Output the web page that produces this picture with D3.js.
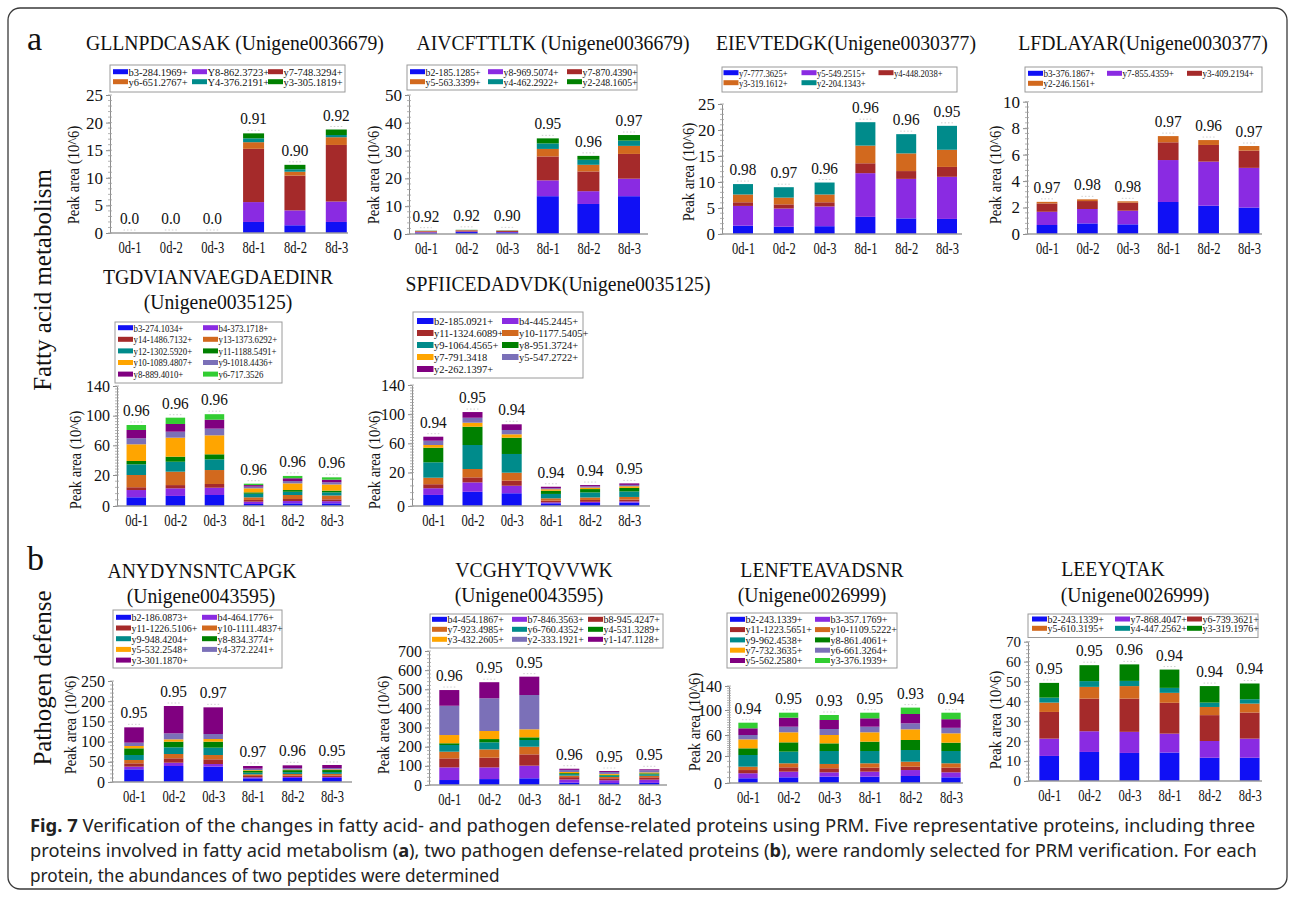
<!DOCTYPE html>
<html>
<head>
<meta charset="utf-8">
<script src="https://cdn.jsdelivr.net/npm/d3@7"></script>
<style>
  html, body { margin: 0; padding: 0; background: #fff; }
  svg { display: block; }
</style>
</head>
<body>
<svg id="fig" width="1295" height="900"></svg>
<script>
// ---- shared categories and fragment-ion colours ----
const samples = ["0d-1", "0d-2", "0d-3", "8d-1", "8d-2", "8d-3"];
const ionColors = ["#1010f5", "#8a2be2", "#a52a2a", "#d2691e", "#008b8b",
                   "#008000", "#ffa500", "#7b70b8", "#800080", "#32cd32"];

// ---- GLLNPDCASAK (Unigene0036679) ----
const gllnIons = ["b3-284.1969+", "Y8-862.3723+", "y7-748.3294+", "y6-651.2767+", "Y4-376.2191+", "y3-305.1819+"];
const gllnValues = [
  [0, 0, 0, 2.0, 1.4, 2.0],
  [0, 0, 0, 3.6, 2.7, 3.7],
  [0, 0, 0, 9.65, 6.3, 10.25],
  [0, 0, 0, 1.2, 0.7, 1.4],
  [0, 0, 0, 0.7, 0.45, 0.4],
  [0, 0, 0, 0.9, 0.8, 1.0]
];
const gllnCorr = ["0.0", "0.0", "0.0", "0.91", "0.90", "0.92"];

// ---- AIVCFTTLTK (Unigene0036679) ----
const aivcIons = ["b2-185.1285+", "y8-969.5074+", "y7-870.4390+", "y5-563.3399+", "y4-462.2922+", "y2-248.1605+"];
const aivcValues = [
  [0.5, 0.7, 0.6, 13.6, 10.8, 13.6],
  [0.15, 0.2, 0.15, 5.7, 4.6, 6.3],
  [0.3, 0.35, 0.35, 8.6, 7.1, 8.9],
  [0.15, 0.15, 0.1, 2.7, 2.4, 2.9],
  [0.05, 0.05, 0.05, 2.0, 1.8, 1.9],
  [0.05, 0.05, 0.05, 1.8, 1.4, 2.0]
];
const aivcCorr = ["0.92", "0.92", "0.90", "0.95", "0.96", "0.97"];

// ---- EIEVTEDGK (Unigene0030377) ----
const eievIons = ["y7-777.3625+", "y5-549.2515+", "y4-448.2038+", "y3-319.1612+", "y2-204.1343+"];
const eievValues = [
  [1.6, 1.4, 1.5, 3.3, 3.0, 2.9],
  [3.8, 3.5, 3.8, 8.4, 7.6, 8.1],
  [0.7, 0.8, 0.8, 1.9, 1.5, 1.9],
  [1.5, 1.3, 1.5, 3.4, 3.4, 3.3],
  [2.0, 2.0, 2.3, 4.5, 3.7, 4.6]
];
const eievCorr = ["0.98", "0.97", "0.96", "0.96", "0.96", "0.95"];

// ---- LFDLAYAR (Unigene0030377) ----
const lfdlIons = ["b3-376.1867+", "y7-855.4359+", "y3-409.2194+", "y2-246.1561+"];
const lfdlValues = [
  [0.68, 0.8, 0.73, 2.42, 2.14, 2.0],
  [1.0, 1.09, 1.03, 3.17, 3.33, 3.0],
  [0.63, 0.6, 0.61, 1.34, 1.26, 1.3],
  [0.12, 0.13, 0.1, 0.47, 0.37, 0.35]
];
const lfdlCorr = ["0.97", "0.98", "0.98", "0.97", "0.96", "0.97"];

// ---- TGDVIANVAEGDAEDINR (Unigene0035125) ----
const tgdvIons = ["b3-274.1034+", "b4-373.1718+", "y14-1486.7132+", "y13-1373.6292+", "y12-1302.5920+",
                  "y11-1188.5491+", "y10-1089.4807+", "y9-1018.4436+", "y8-889.4010+", "y6-717.3526"];
const tgdvValues = [
  [5.6, 6.5, 7.1, 1.3, 1.7, 1.7],
  [4.7, 4.9, 4.7, 1.5, 1.5, 1.4],
  [1.8, 2.1, 2.4, 1.1, 1.3, 1.2],
  [7.9, 11.0, 12.5, 1.7, 2.6, 2.5],
  [14.4, 13.4, 14.4, 2.3, 2.1, 2.0],
  [4.5, 6.8, 6.8, 0.9, 1.1, 1.1],
  [22.5, 25.6, 25.6, 2.6, 4.3, 4.0],
  [8.1, 8.1, 9.0, 1.1, 1.5, 1.4],
  [11.2, 10.4, 12.1, 1.0, 1.8, 1.7],
  [6.7, 8.5, 7.4, 0.9, 1.5, 1.5]
];
const tgdvCorr = ["0.96", "0.96", "0.96", "0.96", "0.96", "0.96"];

// ---- SPFIICEDADVDK (Unigene0035125) ----
const spfiIons = ["b2-185.0921+", "b4-445.2445+", "y11-1324.6089+", "y10-1177.5405+", "y9-1064.4565+",
                  "y8-951.3724+", "y7-791.3418", "y5-547.2722+", "y2-262.1397+"];
const spfiValues = [
  [6.6, 8.5, 7.6, 1.6, 1.8, 2.0],
  [4.0, 5.6, 4.5, 0.6, 0.7, 0.7],
  [2.4, 3.0, 3.0, 1.0, 1.1, 1.1],
  [3.9, 7.7, 4.8, 1.4, 1.5, 1.6],
  [17.1, 32.9, 25.5, 2.6, 3.0, 3.3],
  [20.0, 25.1, 22.3, 1.9, 2.0, 2.1],
  [3.7, 5.5, 4.7, 0.9, 0.9, 1.0],
  [5.9, 6.8, 5.9, 0.6, 0.7, 0.8],
  [5.5, 7.8, 7.8, 0.9, 0.8, 0.9]
];
const spfiCorr = ["0.94", "0.95", "0.94", "0.94", "0.94", "0.95"];

// ---- ANYDYNSNTCAPGK (Unigene0043595) ----
const anydIons = ["b2-186.0873+", "b4-464.1776+", "y11-1226.5106+", "y10-1111.4837+", "y9-948.4204+",
                  "y8-834.3774+", "y5-532.2548+", "y4-372.2241+", "y3-301.1870+"];
const anydValues = [
  [31.4, 39.6, 38.0, 9.1, 10.0, 10.0],
  [6.6, 8.2, 6.5, 2.5, 2.5, 2.5],
  [8.2, 10.8, 11.6, 3.3, 3.3, 3.5],
  [8.3, 10.7, 10.7, 4.1, 4.1, 4.1],
  [12.3, 16.5, 18.2, 4.1, 4.5, 4.5],
  [16.5, 14.0, 14.8, 5.0, 5.0, 5.0],
  [5.8, 5.8, 6.6, 1.6, 1.6, 1.6],
  [8.3, 14.8, 12.4, 3.3, 3.3, 3.3],
  [37.9, 67.7, 66.0, 6.6, 7.0, 7.6]
];
const anydCorr = ["0.95", "0.95", "0.97", "0.97", "0.96", "0.95"];

// ---- VCGHYTQVVWK (Unigene0043595) ----
const vcghIons = ["b4-454.1867+", "b7-846.3563+", "b8-945.4247+", "y7-923.4985+", "y6-760.4352+",
                  "y4-531.3289+", "y3-432.2605+", "y2-333.1921+", "y1-147.1128+"];
const vcghValues = [
  [26, 31, 35, 12, 10, 11],
  [66, 61, 66, 17, 15, 17],
  [47, 51, 59, 12, 10, 12],
  [35, 43, 40, 8, 7, 8],
  [35, 37, 35, 8, 7, 8],
  [9, 17, 14, 5, 4, 5],
  [43, 42, 42, 6, 5, 5],
  [153, 171, 179, 11, 10, 11],
  [82, 84, 96, 6, 5, 5]
];
const vcghCorr = ["0.96", "0.95", "0.95", "0.96", "0.95", "0.95"];

// ---- LENFTEAVADSNR (Unigene0026999) ----
const lenfIons = ["b2-243.1339+", "b3-357.1769+", "y11-1223.5651+", "y10-1109.5222+", "y9-962.4538+",
                  "y8-861.4061+", "y7-732.3635+", "y6-661.3264+", "y5-562.2580+", "y3-376.1939+"];
const lenfValues = [
  [3.5, 4.2, 4.7, 4.7, 5.2, 4.2],
  [3.7, 4.2, 3.2, 3.7, 4.4, 3.7],
  [2.4, 3.2, 3.0, 3.0, 2.5, 3.5],
  [2.5, 3.0, 3.2, 3.2, 3.7, 3.2],
  [9.8, 13.7, 15.4, 14.9, 15.6, 14.9],
  [12.7, 17.7, 14.6, 17.8, 19.1, 15.9],
  [17.1, 18.3, 15.9, 17.0, 18.6, 17.3],
  [8.3, 9.0, 9.6, 9.0, 9.6, 8.8],
  [10.7, 14.4, 14.4, 13.4, 14.9, 13.8],
  [9.0, 8.0, 8.0, 9.0, 10.4, 10.4]
];
const lenfCorr = ["0.94", "0.95", "0.93", "0.95", "0.93", "0.94"];

// ---- LEEYQTAK (Unigene0026999) ----
const leeyIons = ["b2-243.1339+", "y7-868.4047+", "y6-739.3621+", "y5-610.3195+", "y4-447.2562+", "y3-319.1976+"];
const leeyValues = [
  [12.6, 14.6, 14.1, 14.3, 11.7, 11.7],
  [8.7, 10.4, 10.6, 9.5, 8.4, 9.6],
  [13.4, 16.4, 16.7, 15.5, 13.0, 13.1],
  [4.7, 5.9, 6.3, 5.0, 4.1, 4.5],
  [2.5, 2.9, 2.6, 2.5, 2.2, 2.2],
  [7.4, 8.0, 8.3, 9.2, 8.3, 7.9]
];
const leeyCorr = ["0.95", "0.95", "0.96", "0.94", "0.94", "0.94"];

// ---- panel layout ----
const panels = [
  { ions: gllnIons, values: gllnValues, corr: gllnCorr,
    title: [["GLLNPDCASAK (Unigene0036679)", 235, 50]],
    legend: { x: 110, y: 65, w: 235, h: 27, cols: [113, 192, 268], rows: [71.7, 81.7], fsx: 1.0 },
    yDomain: [0, 25], yRange: [233, 95], ticks: [0, 5, 10, 15, 20, 25], minor: 1, tickFont: 17,
    axisX: 110, axisEnd: 348, c0: 129.5, c5: 336.3, barW: 21, yLab: [73, 175] },
  { ions: aivcIons, values: aivcValues, corr: aivcCorr,
    title: [["AIVCFTTLTK (Unigene0036679)", 553, 50]],
    legend: { x: 407, y: 65, w: 230, h: 25, cols: [410, 488, 567], rows: [71.7, 81.7], fsx: 0.93 },
    yDomain: [0, 50], yRange: [234, 95], ticks: [0, 10, 20, 30, 40, 50], minor: 2, tickFont: 17,
    axisX: 409, axisEnd: 648, c0: 426, c5: 629, barW: 22, yLab: [373, 175] },
  { ions: eievIons, values: eievValues, corr: eievCorr,
    title: [["EIEVTEDGK(Unigene0030377)", 846, 50]],
    legend: { x: 722, y: 67, w: 235, h: 25, cols: [723.5, 801.5, 878.5], rows: [72.7, 82.7], fsx: 0.82 },
    yDomain: [0, 25], yRange: [234, 104], ticks: [0, 5, 10, 15, 20, 25], minor: 1, tickFont: 17,
    axisX: 722, axisEnd: 962, c0: 743, c5: 947, barW: 20, yLab: [688, 172] },
  { ions: lfdlIons, values: lfdlValues, corr: lfdlCorr,
    title: [["LFDLAYAR(Unigene0030377)", 1143, 50]],
    legend: { x: 1025, y: 67, w: 237, h: 25, cols: [1028, 1107, 1187], rows: [73.3, 83.3], fsx: 0.87 },
    yDomain: [0, 10], yRange: [234, 101.7], ticks: [0, 2, 4, 6, 8, 10], minor: 0.4, tickFont: 17,
    axisX: 1027, axisEnd: 1262, c0: 1047, c5: 1249, barW: 20.7, yLab: [995, 175] },
  { ions: tgdvIons, values: tgdvValues, corr: tgdvCorr,
    title: [["TGDVIANVAEGDAEDINR", 218, 284], ["(Unigene0035125)", 218, 309]],
    legend: { x: 115, y: 322, w: 167, h: 61, cols: [118, 203], rows: [327.7, 339.3, 350.9, 362.5, 374.1], fsx: 0.84 },
    yDomain: [0, 20, 140], yRange: [506, 475, 386], ticks: [0, 20, 60, 100, 140], minor: 4, tickFont: 16,
    axisX: 117, axisEnd: 350, c0: 136.3, c5: 331.7, barW: 19.5, yLab: [75, 460] },
  { ions: spfiIons, values: spfiValues, corr: spfiCorr,
    title: [["SPFIICEDADVDK(Unigene0035125)", 558, 291]],
    legend: { x: 413, y: 312, w: 170, h: 66, cols: [417, 502], rows: [321, 333, 345, 357, 369], fsx: 1.0, sw: 16.5, sh: 6 },
    yDomain: [0, 20, 140], yRange: [506, 472.5, 385], ticks: [0, 20, 60, 100, 140], minor: 4, tickFont: 16,
    axisX: 412, axisEnd: 650, c0: 433.3, c5: 629.3, barW: 20, yLab: [374, 460] },
  { ions: anydIons, values: anydValues, corr: anydCorr,
    title: [["ANYDYNSNTCAPGK", 202, 578], ["(Unigene0043595)", 201, 603]],
    legend: { x: 113, y: 610, w: 169, h: 58, cols: [116, 202], rows: [617.3, 628, 638.7, 649.4, 660.1], fsx: 0.95 },
    yDomain: [0, 250], yRange: [782, 681], ticks: [0, 50, 100, 150, 200, 250], minor: 10, tickFont: 16,
    axisX: 112, axisEnd: 352, c0: 134, c5: 332, barW: 19.5, yLab: [70, 725] },
  { ions: vcghIons, values: vcghValues, corr: vcghCorr,
    title: [["VCGHYTQVVWK", 534, 577], ["(Unigene0043595)", 529, 602]],
    legend: { x: 430, y: 614, w: 233, h: 34, cols: [432, 512, 588], rows: [619.3, 629.3, 639.3], fsx: 0.95 },
    yDomain: [0, 700], yRange: [785, 651], ticks: [0, 100, 200, 300, 400, 500, 600, 700], minor: 20, tickFont: 16,
    axisX: 429, axisEnd: 667, c0: 449.3, c5: 649.3, barW: 20, yLab: [383, 725] },
  { ions: lenfIons, values: lenfValues, corr: lenfCorr,
    title: [["LENFTEAVADSNR", 822, 577], ["(Unigene0026999)", 812, 602]],
    legend: { x: 727, y: 613, w: 170, h: 55, cols: [730, 815], rows: [619.3, 629.6, 639.9, 650.2, 660.5], fsx: 0.96 },
    yDomain: [0, 20, 60, 100, 140], yRange: [783, 756, 735, 710, 686], ticks: [0, 20, 60, 100, 140], minor: 4, tickFont: 16,
    axisX: 729, axisEnd: 963, c0: 748, c5: 951, barW: 19.3, yLab: [694, 722] },
  { ions: leeyIons, values: leeyValues, corr: leeyCorr,
    title: [["LEEYQTAK", 1113, 576], ["(Unigene0026999)", 1135, 602]],
    legend: { x: 1028, y: 614, w: 230, h: 23.5, cols: [1032, 1115, 1187], rows: [619, 628.3], fsx: 0.95 },
    yDomain: [0, 70], yRange: [781, 641.7], ticks: [0, 10, 20, 30, 40, 50, 60, 70], minor: 2, tickFont: 15,
    axisX: 1028, axisEnd: 1262, c0: 1049.2, c5: 1249.7, barW: 19.7, yLab: [995, 720] }
];

const SERIF = "'Liberation Serif', 'Times New Roman', serif";
const SANS = "'Noto Sans', 'Open Sans', sans-serif";
const TITLE_SIZE = 22, TITLE_SX = 0.895;
const LEGEND_SIZE = 11.2;
const svg = d3.select("#fig");

// text with an optional horizontal squeeze
function label(parent, x, y, str, size, sx, anchor, rot) {
  return parent.append("text")
    .attr("transform", `translate(${x},${y})${rot ? " rotate(" + rot + ")" : ""} scale(${sx},1)`)
    .attr("text-anchor", anchor || "middle")
    .style("font-family", SERIF)
    .style("font-size", size + "px")
    .attr("fill", "#111")
    .text(str);
}

// outer frame
svg.append("rect")
  .attr("x", 8).attr("y", 8).attr("width", 1279).attr("height", 881)
  .attr("rx", 12).attr("fill", "none").attr("stroke", "#3a3a3a").attr("stroke-width", 1.3);

// section letters and row captions
label(svg, 27, 50, "a", 34, 1, "start");
label(svg, 27, 570, "b", 34, 1, "start");
label(svg, 42, 280, "Fatty acid metabolism", 26, 0.96, "middle", -90).attr("dy", "0.35em");
label(svg, 42, 678, "Pathogen defense", 26, 0.96, "middle", -90).attr("dy", "0.35em");

function drawPanel(p) {
  const g = svg.append("g");

  // peptide title: one text element, one tspan per line
  const tt = g.append("text")
    .attr("transform", `scale(${TITLE_SX},1)`)
    .attr("text-anchor", "middle")
    .style("font-family", SERIF).style("font-size", TITLE_SIZE + "px")
    .attr("fill", "#111");
  p.title.forEach(([t, cx, by]) => {
    tt.append("tspan").attr("x", cx / TITLE_SX).attr("y", by).text(t);
  });

  const y = d3.scaleLinear().domain(p.yDomain).range(p.yRange);
  const x = d3.scalePoint().domain(samples).range([p.c0, p.c5]);
  const yMax = p.yDomain[p.yDomain.length - 1];

  // stacked fragment-ion areas
  const rows = samples.map((s, j) => {
    const o = { sample: s };
    p.ions.forEach((ion, i) => { o[ion] = p.values[i][j]; });
    return o;
  });
  const series = d3.stack().keys(p.ions)(rows);

  g.append("g").selectAll("g").data(series).join("g")
    .attr("fill", (d, i) => ionColors[i])
    .selectAll("rect").data(d => d).join("rect")
    .attr("x", d => x(d.data.sample) - p.barW / 2)
    .attr("width", p.barW)
    .attr("y", d => y(d[1]))
    .attr("height", d => Math.max(0, y(d[0]) - y(d[1])));

  // y axis with minor ticks
  const ya = g.append("g").attr("transform", `translate(${p.axisX},0)`)
    .call(d3.axisLeft(y).tickValues(p.ticks).tickSize(4).tickSizeOuter(0).tickPadding(3));
  ya.attr("font-family", null).attr("font-size", null);
  ya.select(".domain").attr("stroke", "#8c8c8c");
  ya.selectAll(".tick line").attr("stroke", "#8c8c8c");
  ya.selectAll("text").style("font-family", SERIF).style("font-size", p.tickFont + "px").attr("fill", "#111");

  g.append("g").selectAll("line")
    .data(d3.range(p.yDomain[0], yMax + 1e-9, p.minor))
    .join("line")
    .attr("x1", p.axisX - 2).attr("x2", p.axisX + 2)
    .attr("y1", d => y(d)).attr("y2", d => y(d))
    .attr("stroke", "#a0a0a0").attr("stroke-width", 0.8);

  // x axis
  g.append("line")
    .attr("x1", p.axisX).attr("x2", p.axisEnd)
    .attr("y1", y(0)).attr("y2", y(0))
    .attr("stroke", "#9c9c9c").attr("stroke-width", 1.6);
  const xa = g.append("g").attr("transform", `translate(0,${y(0)})`)
    .call(d3.axisBottom(x).tickSize(0).tickPadding(8));
  xa.attr("font-family", null).attr("font-size", null);
  xa.select(".domain").remove();
  xa.selectAll("text")
    .attr("transform", "scale(0.74,1)")
    .style("font-family", SERIF).style("font-size", "17px").attr("fill", "#111");

  // correlation labels and faint whiskers above each bar
  const topLayer = series[series.length - 1];
  samples.forEach((s, j) => {
    const top = topLayer[j][1];
    g.append("line")
      .attr("x1", x(s) - 6).attr("x2", x(s) + 6)
      .attr("y1", y(top) - 3).attr("y2", y(top) - 3)
      .attr("stroke", "#c4c4c4").attr("stroke-width", 0.8).attr("stroke-dasharray", "1.5,2");
    label(g, x(s), y(top) - 9, p.corr[j], 17, 0.9);
  });

  // y axis title
  label(g, p.yLab[0], p.yLab[1], "Peak area (10^6)", 17, 0.86, "middle", -90).attr("dy", "0.35em");

  // legend
  const L = p.legend;
  const sw = L.sw || 15, sh = L.sh || 5;
  g.append("rect")
    .attr("x", L.x).attr("y", L.y).attr("width", L.w).attr("height", L.h)
    .attr("fill", "#fff").attr("stroke", "#9a9a9a").attr("stroke-width", 1);
  p.ions.forEach((ion, i) => {
    const col = i % L.cols.length, row = Math.floor(i / L.cols.length);
    const lx = L.cols[col], ly = L.rows[row];
    g.append("rect").attr("x", lx).attr("y", ly - sh / 2).attr("width", sw).attr("height", sh)
      .attr("fill", ionColors[i]);
    label(g, lx + sw + 0.5, ly + 3.8, ion, LEGEND_SIZE, L.fsx * 10.5 / LEGEND_SIZE, "start");
  });
}

panels.forEach(drawPanel);

// figure caption
const capLines = [
  [["Fig. 7", true], [" Verification of the changes in fatty acid- and pathogen defense-related proteins using PRM. Five representative proteins, including three", false]],
  [["proteins involved in fatty acid metabolism (", false], ["a", true], ["), two pathogen defense-related proteins (", false], ["b", true], ["), were randomly selected for PRM verification. For each", false]],
  [["protein, the abundances of two peptides were determined", false]]
];
const capBaselines = [832, 857, 882];
const capWidths = [1226, 1228, 470];

capLines.forEach((parts, k) => {
  const t = svg.append("text")
    .style("font-family", SANS).style("font-size", "18px").attr("fill", "#222");
  parts.forEach(([s, bold]) => {
    t.append("tspan").attr("font-weight", bold ? "bold" : "normal").text(s);
  });
  const w = t.node().getComputedTextLength();
  t.attr("transform", `translate(30,${capBaselines[k]}) scale(${capWidths[k] / w},1)`);
});
</script>
</body>
</html>
